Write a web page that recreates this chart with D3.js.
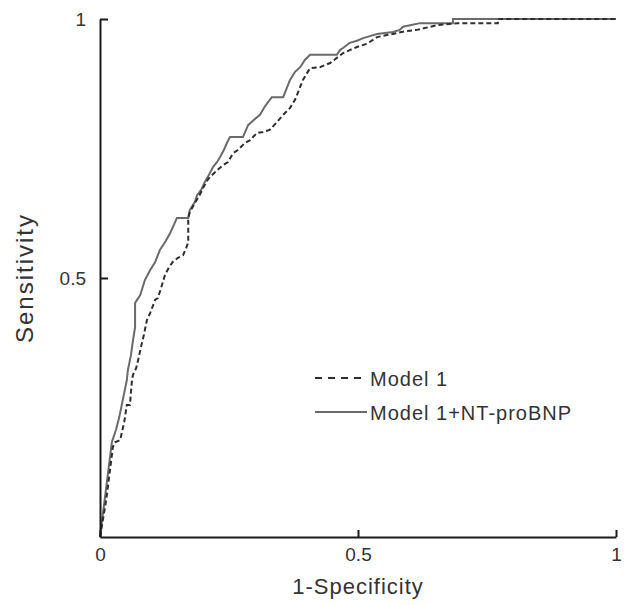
<!DOCTYPE html>
<html>
<head>
<meta charset="utf-8">
<script src="https://cdn.jsdelivr.net/npm/d3@7"></script>
<style>
  body { margin: 0; background: #fff; }
  text { font-family: "Liberation Sans", Arial, sans-serif; fill: #333; }
</style>
</head>
<body>
<div id="chart"></div>
<script>
// ROC curve points (1-specificity, sensitivity)
const model1Fpr = [0, 0.012, 0.025, 0.029, 0.039, 0.047, 0.052, 0.058, 0.062, 0.064, 0.070, 0.074, 0.079, 0.085, 0.091, 0.097, 0.107, 0.112, 0.120, 0.126, 0.134, 0.141, 0.151, 0.161, 0.167, 0.171, 0.171, 0.174, 0.184, 0.192, 0.200, 0.207, 0.213, 0.227, 0.236, 0.248, 0.258, 0.267, 0.281, 0.291, 0.304, 0.316, 0.329, 0.343, 0.355, 0.368, 0.378, 0.384, 0.393, 0.407, 0.426, 0.446, 0.459, 0.471, 0.484, 0.498, 0.517, 0.537, 0.556, 0.576, 0.595, 0.614, 0.640, 0.653, 0.692, 0.771, 0.771, 1];
const model1Tpr = [0, 0.071, 0.174, 0.183, 0.187, 0.222, 0.255, 0.255, 0.303, 0.313, 0.326, 0.342, 0.365, 0.390, 0.419, 0.432, 0.458, 0.461, 0.486, 0.506, 0.521, 0.531, 0.539, 0.544, 0.558, 0.569, 0.616, 0.627, 0.645, 0.658, 0.674, 0.687, 0.695, 0.708, 0.716, 0.724, 0.741, 0.747, 0.761, 0.766, 0.780, 0.782, 0.786, 0.801, 0.815, 0.828, 0.844, 0.859, 0.882, 0.905, 0.907, 0.915, 0.925, 0.934, 0.940, 0.946, 0.952, 0.965, 0.969, 0.973, 0.977, 0.979, 0.985, 0.988, 0.992, 0.992, 1, 1];

const bnpFpr = [0, 0.023, 0.031, 0.037, 0.043, 0.052, 0.054, 0.060, 0.064, 0.068, 0.068, 0.078, 0.087, 0.097, 0.107, 0.116, 0.126, 0.136, 0.143, 0.149, 0.171, 0.174, 0.184, 0.188, 0.196, 0.203, 0.211, 0.219, 0.227, 0.233, 0.240, 0.246, 0.252, 0.277, 0.287, 0.298, 0.310, 0.320, 0.333, 0.355, 0.368, 0.378, 0.388, 0.397, 0.407, 0.459, 0.465, 0.471, 0.484, 0.498, 0.510, 0.523, 0.537, 0.552, 0.568, 0.581, 0.587, 0.601, 0.620, 0.684, 0.684, 1];
const bnpTpr = [0, 0.183, 0.207, 0.230, 0.259, 0.303, 0.322, 0.351, 0.380, 0.405, 0.452, 0.467, 0.496, 0.515, 0.531, 0.554, 0.569, 0.587, 0.602, 0.616, 0.616, 0.631, 0.647, 0.660, 0.670, 0.685, 0.699, 0.714, 0.724, 0.734, 0.747, 0.761, 0.772, 0.772, 0.795, 0.805, 0.815, 0.832, 0.849, 0.849, 0.882, 0.898, 0.907, 0.921, 0.931, 0.931, 0.940, 0.944, 0.954, 0.958, 0.963, 0.967, 0.971, 0.973, 0.975, 0.979, 0.985, 0.988, 0.992, 0.992, 1, 1];

const xTicks = [0, 0.5, 1];
const yTicks = [0.5, 1];
const seriesNames = ['Model 1', 'Model 1+NT-proBNP'];

const width = 628;
const height = 605;
const plotLeft = 100, plotRight = 616, plotTop = 19, plotBottom = 537;

const svg = d3.select('#chart')
              .append('svg')
              .attr('width', width)
              .attr('height', height);

const xScale = d3.scaleLinear().domain([0, 1]).range([plotLeft, plotRight]);
const yScale = d3.scaleLinear().domain([0, 1]).range([plotBottom, plotTop]);

const line = d3.line()
               .x(d => xScale(d[0]))
               .y(d => yScale(d[1]));

const model1 = model1Fpr.map((f, i) => [f, model1Tpr[i]]);
const bnp = bnpFpr.map((f, i) => [f, bnpTpr[i]]);

//curves
svg.append('path')
   .datum(bnp)
   .attr('d', line)
   .attr('fill', 'none')
   .attr('stroke', '#6a6a6a')
   .attr('stroke-width', 2);

svg.append('path')
   .datum(model1)
   .attr('d', line)
   .attr('fill', 'none')
   .attr('stroke', '#2e2e2e')
   .attr('stroke-width', 2)
   .attr('stroke-dasharray', '5,3');

//axes
const xAxis = d3.axisBottom(xScale)
                .tickValues(xTicks)
                .tickFormat(d3.format(''))
                .tickSizeInner(-7)
                .tickSizeOuter(0)
                .tickPadding(11);

const yAxis = d3.axisLeft(yScale)
                .tickValues(yTicks)
                .tickFormat(d3.format(''))
                .tickSizeInner(-8)
                .tickSizeOuter(0)
                .tickPadding(14);

const gx = svg.append('g')
              .attr('transform', 'translate(0,' + plotBottom + ')')
              .call(xAxis);

const gy = svg.append('g')
              .attr('transform', 'translate(' + plotLeft + ',0)')
              .call(yAxis);

[gx, gy].forEach(g => {
  g.select('.domain').attr('stroke', '#1a1a1a').attr('stroke-width', 2);
  g.selectAll('.tick line').attr('stroke', '#1a1a1a').attr('stroke-width', 2);
  g.selectAll('.tick text')
   .attr('font-size', 19)
   .attr('font-family', '"Liberation Sans", Arial, sans-serif')
   .attr('fill', '#333');
});

//axis titles
svg.append('text')
   .text('1-Specificity')
   .attr('x', (plotLeft + plotRight) / 2)
   .attr('y', 594)
   .attr('text-anchor', 'middle')
   .attr('font-size', 22)
   .attr('letter-spacing', 1);

svg.append('text')
   .text('Sensitivity')
   .attr('transform', 'translate(33,' + (plotTop + plotBottom) / 2 + ') rotate(-90)')
   .attr('text-anchor', 'middle')
   .attr('font-size', 24)
   .attr('letter-spacing', 2);

//legend
const legend = svg.append('g').attr('transform', 'translate(315,378)');
const legendRows = legend.selectAll('g')
                         .data(seriesNames)
                         .enter()
                         .append('g')
                         .attr('transform', (d, i) => 'translate(0,' + i * 34 + ')');

legendRows.append('line')
          .attr('x1', 0)
          .attr('x2', 52)
          .attr('y1', 0)
          .attr('y2', 0)
          .attr('stroke', (d, i) => i === 0 ? '#2e2e2e' : '#6a6a6a')
          .attr('stroke-width', 2)
          .attr('stroke-dasharray', (d, i) => i === 0 ? '7,6' : null);

legendRows.append('text')
          .text(d => d)
          .attr('x', 55)
          .attr('y', 8)
          .attr('font-size', 20)
          .attr('letter-spacing', 1);
</script>
</body>
</html>
